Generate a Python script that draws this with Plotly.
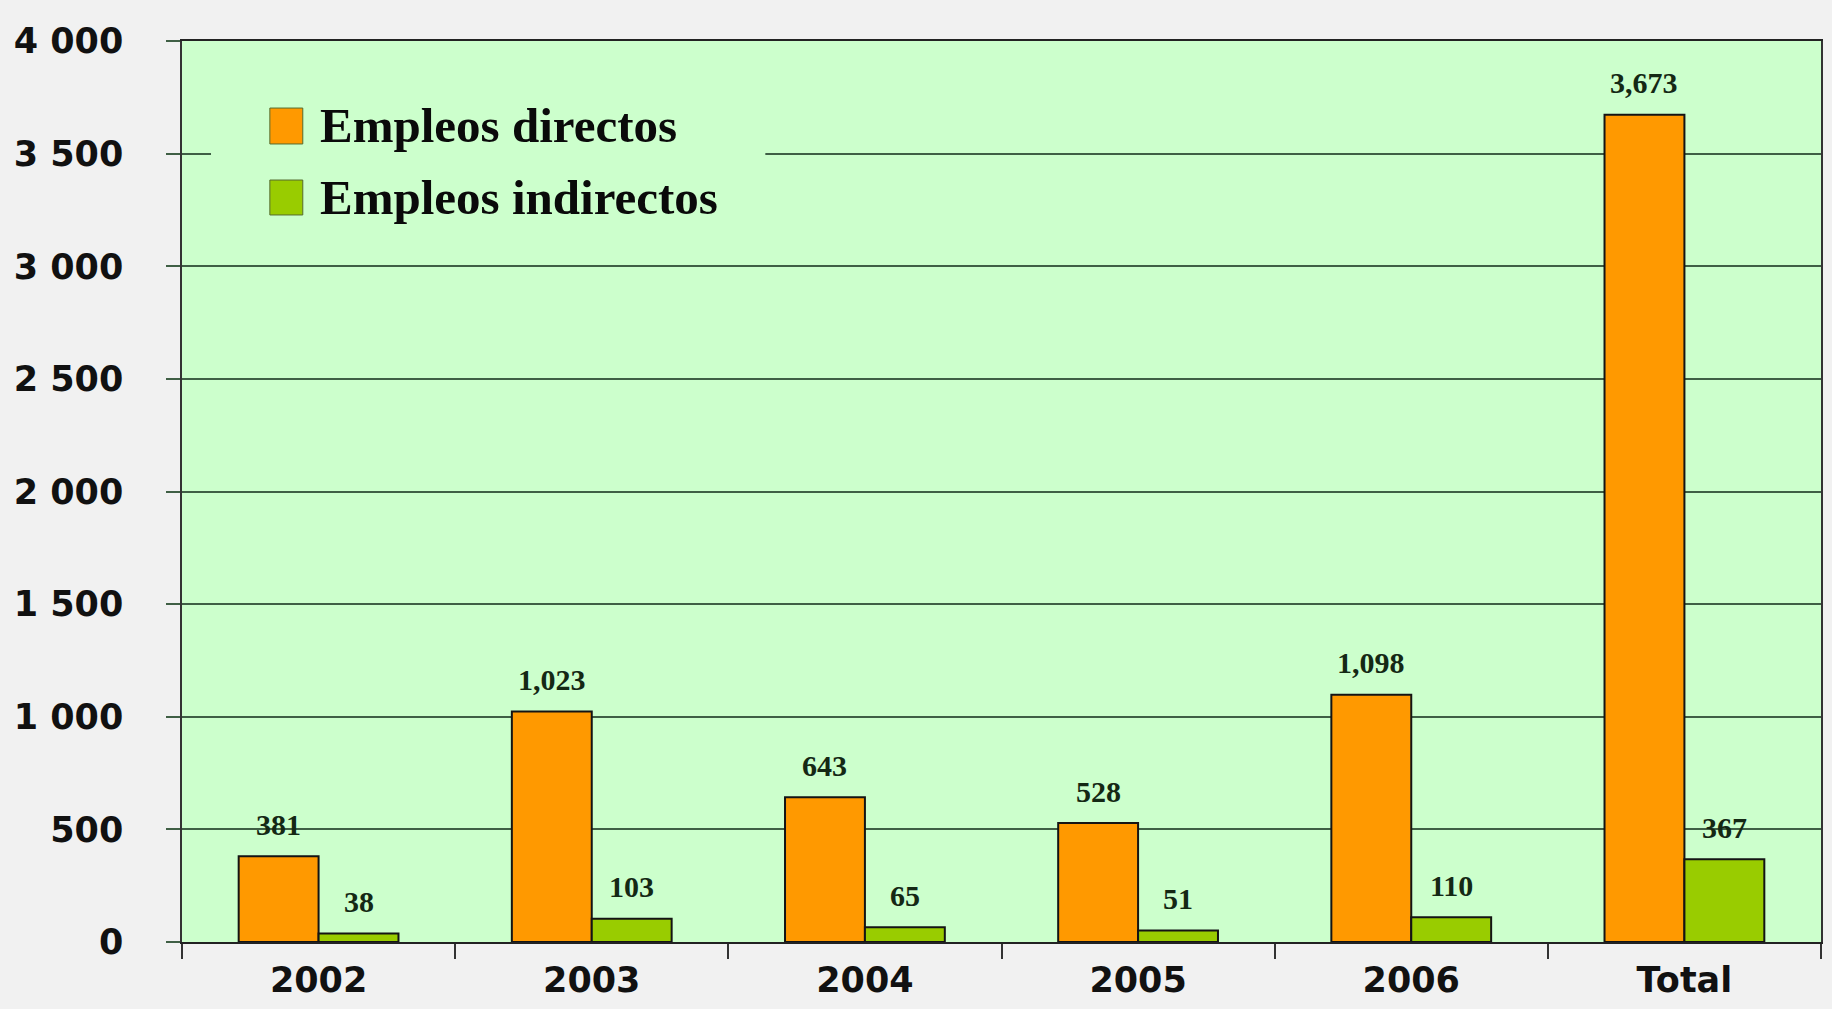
import plotly.graph_objects as go

categories = ["2002", "2003", "2004", "2005", "2006", "Total"]
directos = [381, 1023, 643, 528, 1098, 3673]
indirectos = [38, 103, 65, 51, 110, 367]
series_names = ["Empleos directos", "Empleos indirectos"]
y_tick_vals = [0, 500, 1000, 1500, 2000, 2500, 3000, 3500, 4000]
y_tick_text = ["0", "500", "1 000", "1 500", "2 000", "2 500", "3 000", "3 500", "4 000"]

ORANGE = "#FF9900"
GREEN = "#99CC00"
PLOT_BG = "#CCFFCC"
PAGE_BG = "#F1F1F1"
GRID = "#3F5F45"
LABEL_COLOR = "#142814"

BAR_HALF = 40  # half bar width in px, for placing value labels over each bar
label_font = dict(family="Liberation Serif", size=30, color=LABEL_COLOR, weight="bold")

fig = go.Figure()
fig.add_trace(go.Bar(
    x=categories, y=directos, name=series_names[0],
    marker=dict(color=ORANGE, line=dict(color="#141414", width=2)),
    showlegend=False,
))
fig.add_trace(go.Bar(
    x=categories, y=indirectos, name=series_names[1],
    marker=dict(color=GREEN, line=dict(color="#141414", width=2)),
    showlegend=False,
))

annotations = []
for series, shift in ((directos, -BAR_HALF), (indirectos, BAR_HALF)):
    for idx, val in enumerate(series):
        # on a category axis, annotation x is the category's serial index
        annotations.append(dict(
            x=idx, y=val, xref="x", yref="y", text=f"{val:,}", showarrow=False,
            xanchor="center", yanchor="middle", xshift=shift, yshift=32,
            font=label_font,
        ))

# manual legend (large squares like the original)
shapes = [
    dict(type="rect", xref="paper", yref="paper", x0=0.0177, x1=0.3559, y0=0.785, y1=0.951,
         fillcolor=PLOT_BG, line=dict(width=0), layer="above"),
]
legend_rows = [(ORANGE, 0.8857, 0.9256, 0.9057), (GREEN, 0.8069, 0.8457, 0.8263)]
for (col, y0, y1, yc), name in zip(legend_rows, series_names):
    shapes.append(dict(type="rect", xref="paper", yref="paper", x0=0.0536, x1=0.0737,
                       y0=y0, y1=y1, fillcolor=col, line=dict(color="#556b2f", width=1),
                       layer="above"))
    annotations.append(dict(xref="paper", yref="paper", x=0.0829, y=yc, xanchor="left",
                            yanchor="middle", showarrow=False, text="<b>" + name + "</b>",
                            font=dict(family="Liberation Serif", size=49, color="#0a0a0a")))

fig.update_layout(
    width=1832, height=1009,
    margin=dict(l=182, r=9, t=41, b=67),
    paper_bgcolor=PAGE_BG, plot_bgcolor=PLOT_BG,
    barmode="group", bargap=0.415, bargroupgap=0.0,
    shapes=shapes, annotations=annotations,
    showlegend=False,
)
fig.update_xaxes(
    type="category", categoryorder="array", categoryarray=categories,
    range=[-0.5, len(categories) - 0.5],
    showgrid=False,
    showline=True, linecolor="#222222", linewidth=2, mirror=True,
    ticks="outside", ticklen=15, tickcolor="#333333", tickwidth=1.5,
    tickson="boundaries", ticklabelstandoff=6,
    tickfont=dict(family="DejaVu Sans", size=35, color="#111111", weight="bold"),
)
fig.update_yaxes(
    range=[0, 4000], tickvals=y_tick_vals, ticktext=y_tick_text,
    showgrid=True, gridcolor=GRID, gridwidth=2,
    showline=True, linecolor="#333333", linewidth=1.5, mirror=True,
    ticks="outside", ticklen=14, tickcolor=GRID, tickwidth=2,
    ticklabelstandoff=36, zeroline=False,
    tickfont=dict(family="DejaVu Sans", size=35, color="#111111", weight="bold"),
)

fig.write_html(
    "out.html",
    config={"displayModeBar": False},
    post_script="document.body.style.margin='0';document.body.style.overflow='hidden';"
                "document.body.style.background='" + PAGE_BG + "';",
)
